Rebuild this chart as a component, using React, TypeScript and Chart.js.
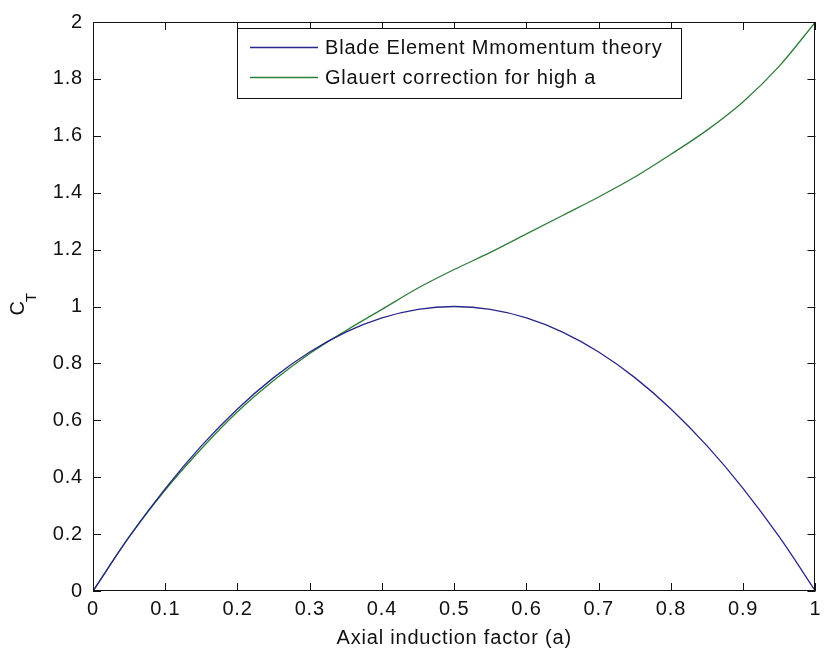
import React, { useEffect, useRef } from "react";
import { Chart, registerables } from "chart.js";

Chart.register(...registerables);

// Axial induction factor samples
const A_VALUES = [0, 0.05, 0.1, 0.15, 0.2, 0.25, 0.3, 0.35, 0.4, 0.45, 0.5, 0.55, 0.6, 0.65, 0.7, 0.75, 0.8, 0.85, 0.9, 0.95, 1.0];
// Blade Element Momentum theory CT
const BEM_CT = [0, 0.19, 0.36, 0.51, 0.64, 0.75, 0.84, 0.91, 0.96, 0.99, 1.0, 0.99, 0.96, 0.91, 0.84, 0.75, 0.64, 0.51, 0.36, 0.19, 0];
// Glauert correction CT
const GLAUERT_CT = [0, 0.19, 0.355, 0.5, 0.63, 0.74, 0.835, 0.915, 0.99, 1.065, 1.13, 1.19, 1.255, 1.32, 1.385, 1.455, 1.535, 1.62, 1.72, 1.845, 2.0];

const SERIES_LABELS = ["Blade Element Mmomentum theory", "Glauert correction for high a"];
const SERIES_COLORS = ["#27278a", "#2f7d3a"];
const X_TITLE = "Axial induction factor (a)";
const Y_TITLE_MAIN = "C";
const Y_TITLE_SUB = "T";
const X_TICKS = [0, 0.1, 0.2, 0.3, 0.4, 0.5, 0.6, 0.7, 0.8, 0.9, 1];
const Y_TICKS = [0, 0.2, 0.4, 0.6, 0.8, 1, 1.2, 1.4, 1.6, 1.8, 2];

const FONT = "'Liberation Sans', Arial, sans-serif";
const SPACING = "0.8px";

const matlabPlugin = {
  id: "matlabFrame",
  beforeDraw(chart: any) {
    (chart.ctx as any).letterSpacing = SPACING;
  },
  afterDraw(chart: any) {
    const ctx = chart.ctx as CanvasRenderingContext2D;
    const { left, right, top, bottom } = chart.chartArea;
    const xs = chart.scales.x;
    const ys = chart.scales.y;
    ctx.save();
    (ctx as any).letterSpacing = SPACING;
    ctx.strokeStyle = "#111";
    ctx.lineWidth = 1;
    // frame
    ctx.beginPath();
    ctx.rect(Math.round(left) + 0.5, Math.round(top) + 0.5, Math.round(right - left) - 1, Math.round(bottom - top) - 1);
    ctx.stroke();
    // inner ticks
    const TL = 8;
    ctx.beginPath();
    X_TICKS.forEach((v) => {
      const px = Math.round(xs.getPixelForValue(v)) + 0.5;
      ctx.moveTo(px, bottom);
      ctx.lineTo(px, bottom - TL);
      ctx.moveTo(px, top);
      ctx.lineTo(px, top + TL);
    });
    Y_TICKS.forEach((v) => {
      const py = Math.round(ys.getPixelForValue(v)) + 0.5;
      ctx.moveTo(left, py);
      ctx.lineTo(left + TL, py);
      ctx.moveTo(right, py);
      ctx.lineTo(right - TL, py);
    });
    ctx.stroke();

    // legend
    const lx = 237, ly = 28, lw = 444, lh = 70;
    ctx.fillStyle = "#fff";
    ctx.fillRect(lx, ly, lw, lh);
    ctx.strokeStyle = "#111";
    ctx.strokeRect(lx + 0.5, ly + 0.5, lw, lh);
    const rows = [47, 77];
    ctx.font = `20px ${FONT}`;
    ctx.textBaseline = "middle";
    ctx.textAlign = "left";
    chart.data.datasets.forEach((ds: any, i: number) => {
      const y = rows[i];
      ctx.strokeStyle = ds.borderColor;
      ctx.lineWidth = 1.3;
      ctx.beginPath();
      ctx.moveTo(250, y + 0.5);
      ctx.lineTo(318, y + 0.5);
      ctx.stroke();
      ctx.fillStyle = "#111";
      ctx.fillText(ds.label, 325, y + 1);
    });

    // y title with subscript
    ctx.translate(18, 303);
    ctx.rotate(-Math.PI / 2);
    ctx.fillStyle = "#111";
    ctx.textAlign = "center";
    ctx.textBaseline = "middle";
    ctx.font = `20px ${FONT}`;
    ctx.fillText(Y_TITLE_MAIN, -5, 0);
    ctx.font = `15px ${FONT}`;
    ctx.fillText(Y_TITLE_SUB, 6, 14);
    ctx.restore();
  },
};

export default function App() {
  const ref = useRef<HTMLCanvasElement | null>(null);
  useEffect(() => {
    if (!ref.current) return;
    const chart = new Chart(ref.current, {
      type: "line",
      data: {
        datasets: [
          {
            label: SERIES_LABELS[0],
            data: A_VALUES.map((a, i) => ({ x: a, y: BEM_CT[i] })),
            borderColor: SERIES_COLORS[0],
            borderWidth: 1.3,
            pointRadius: 0,
            cubicInterpolationMode: "monotone",
            fill: false,
          },
          {
            label: SERIES_LABELS[1],
            data: A_VALUES.map((a, i) => ({ x: a, y: GLAUERT_CT[i] })),
            borderColor: SERIES_COLORS[1],
            borderWidth: 1.3,
            pointRadius: 0,
            cubicInterpolationMode: "monotone",
            fill: false,
          },
        ],
      },
      options: {
        responsive: false,
        animation: false,
        layout: { padding: { left: 0, right: 3, top: 15, bottom: 0 } },
        plugins: { legend: { display: false }, tooltip: { enabled: false } },
        scales: {
          x: {
            type: "linear",
            min: 0,
            max: 1,
            afterFit: (s: any) => { s.height = 64; },
            afterBuildTicks: (s: any) => { s.ticks = X_TICKS.map((v) => ({ value: v })); },
            grid: { display: false, drawTicks: false },
            border: { display: false },
            ticks: {
              padding: 6,
              color: "#111",
              font: { family: FONT, size: 20 },
              maxRotation: 0,
              callback: (v: any) => String(Math.round(Number(v) * 10) / 10),
            },
            title: {
              display: true,
              text: X_TITLE,
              color: "#111",
              font: { family: FONT, size: 20 },
              padding: { top: 0, bottom: 5 },
            },
          },
          y: {
            type: "linear",
            min: 0,
            max: 2,
            afterFit: (s: any) => { s.width = 93; },
            afterBuildTicks: (s: any) => { s.ticks = Y_TICKS.map((v) => ({ value: v })); },
            grid: { display: false, drawTicks: false },
            border: { display: false },
            ticks: {
              padding: 10,
              color: "#111",
              font: { family: FONT, size: 20 },
              callback: (v: any) => String(Math.round(Number(v) * 10) / 10),
            },
          },
        },
      },
      plugins: [matlabPlugin],
    });
    return () => chart.destroy();
  }, []);
  return (
    <div style={{ position: "fixed", left: 0, top: 0, width: 827, height: 655, background: "#fff" }}>
      <canvas ref={ref} width={827} height={655} style={{ display: "block" }} />
    </div>
  );
}
